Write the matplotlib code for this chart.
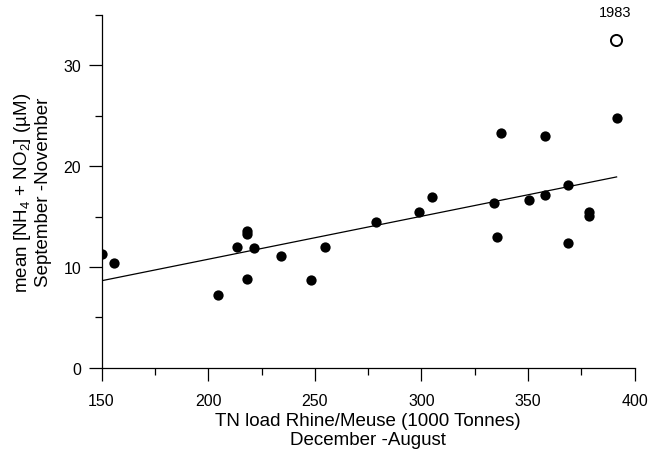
import matplotlib
matplotlib.use("Agg")
import matplotlib.pyplot as plt
from matplotlib.ticker import MultipleLocator

plt.rcParams['font.family'] = ['Liberation Sans', 'DejaVu Sans']
plt.rcParams['mathtext.fontset'] = 'custom'
plt.rcParams['mathtext.rm'] = 'Liberation Sans'

# TN load (1000 t) vs mean NH4+NO2 (uM)
tn_load = [150.3, 155.9, 204.8, 213.4, 218.4, 218.4, 218.2, 221.6, 234.0,
           248.1, 254.8, 278.9, 298.8, 304.9, 334.2, 335.6, 337.3, 350.5,
           358.1, 358.1, 368.5, 368.8, 378.4, 378.6, 391.5]
nh4_no2 = [11.26, 10.37, 7.22, 11.96, 13.6, 13.3, 8.78, 11.86, 11.06,
           8.71, 11.99, 14.5, 15.43, 16.98, 16.4, 13.0, 23.28, 16.7,
           23.04, 17.15, 18.14, 12.41, 15.43, 15.03, 24.77]

# outlier year 1983
out_x = [391.0]
out_y = [32.5]
out_label = '1983'

# regression line end points
fit_x = [150, 391.5]
fit_y = [8.64, 18.94]

fig = plt.figure(figsize=(6.51, 4.52), dpi=100)
ax = fig.add_axes([0.156, 0.184, 0.819, 0.7805])

ax.plot(fit_x, fit_y, color='black', lw=0.9)
ax.plot(tn_load, nh4_no2, 'o', color='black', ms=7.4, mew=0)
ax.plot(out_x, out_y, 'o', mfc='white', mec='black', ms=8, mew=1.4)
ax.text(out_x[0], 35.3, out_label, ha='center', va='center', fontsize=10.5)

ax.set_xlim(150, 400)
ax.set_ylim(0, 35)
ax.spines['top'].set_visible(False)
ax.spines['right'].set_visible(False)
for s in ['left', 'bottom']:
    ax.spines[s].set_linewidth(0.9)

ax.xaxis.set_major_locator(MultipleLocator(50))
ax.xaxis.set_minor_locator(MultipleLocator(25))
ax.yaxis.set_major_locator(MultipleLocator(10))
ax.yaxis.set_minor_locator(MultipleLocator(5))
ax.tick_params(which='major', direction='out', length=9.3, width=0.9, labelsize=11.5)
ax.tick_params(which='minor', direction='out', length=4.8, width=0.9)
ax.tick_params(axis='x', which='major', pad=9)
ax.tick_params(axis='y', which='major', pad=5.5)

ax.set_xlabel('TN load Rhine/Meuse (1000 Tonnes)\nDecember -August',
              fontsize=13.5, linespacing=1.15, labelpad=2.5)
ax.set_ylabel('mean [NH$_4$ + NO$_2$] (µM)\nSeptember -November',
              fontsize=13.5, linespacing=1.15, labelpad=8)

fig.savefig('out.png', dpi=100)
